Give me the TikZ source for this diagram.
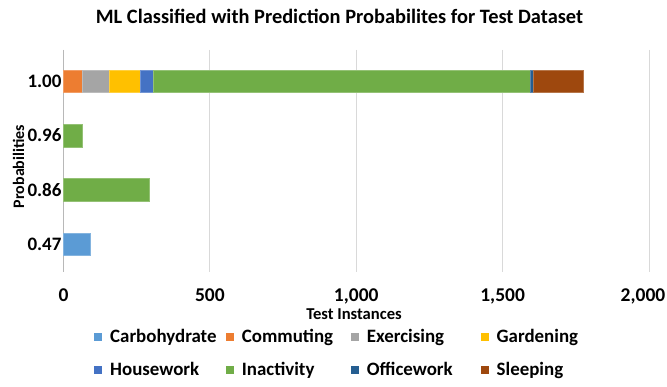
\documentclass[tikz,border=0pt]{standalone}
\usepackage{fontspec}
\setmainfont{Carlito}
\definecolor{cCarb}{HTML}{5B9BD5}
\definecolor{cComm}{HTML}{ED7D31}
\definecolor{cExer}{HTML}{A5A5A5}
\definecolor{cGard}{HTML}{FFC000}
\definecolor{cHouse}{HTML}{4472C4}
\definecolor{cInact}{HTML}{70AD47}
\definecolor{cOffice}{HTML}{255E91}
\definecolor{cSleep}{HTML}{9E480E}
\definecolor{gridgray}{HTML}{D9D9D9}
\tikzset{
  fs/.style={font=\fontsize{#1}{#1}\selectfont\bfseries},
  catlabel/.style={fs=19, anchor=base east, inner sep=0pt},
  ticklabel/.style={fs=19.5, anchor=base, inner sep=0pt, text depth=2pt},
  legtext/.style={fs=18.9, anchor=base west, inner sep=0pt},
  legkey/.style={minimum size=8pt, inner sep=0pt, outer sep=0pt},
  seg/.style={fill=#1, draw=#1!75!white, line width=0.5pt},
  gridline/.style={draw=gridgray, line width=1pt},
}
\begin{document}
\begin{tikzpicture}[x=1pt,y=-1pt]
\useasboundingbox[fill=white] (0,0) rectangle (667,387);

% title
\node[fs=20.4, anchor=base, inner sep=0pt] (title) at (339.5,23.3)
  {ML Classified with Prediction Probabilites for Test Dataset};

% vertical gridlines (data units along x)
\begin{scope}[x=0.29275pt, xshift=63.5pt]
  \foreach \v in {500,1000,1500,2000}
    \draw[gridline] (\v,50) -- (\v,272);
  \draw[draw=gridgray!85!black, line width=1pt] (0,50) -- (0,272);

  % stacked bars: category 1.00
  \def\ya{70}\def\yb{92.5}
  \fill[seg=cComm]   (0,\ya)    rectangle (64,\yb);
  \fill[seg=cExer]   (64,\ya)   rectangle (156,\yb);
  \fill[seg=cGard]   (156,\ya)  rectangle (263,\yb);
  \fill[seg=cHouse]  (263,\ya)  rectangle (308,\yb);
  \fill[seg=cInact]  (308,\ya)  rectangle (1595,\yb);
  \fill[seg=cOffice] (1595,\ya) rectangle (1606,\yb);
  \fill[seg=cSleep]  (1606,\ya) rectangle (1774,\yb);

  % category 0.96
  \fill[seg=cInact] (0,124.3) rectangle (65,146.8);
  % category 0.86
  \fill[seg=cInact] (0,178.7) rectangle (292,201.2);
  % category 0.47
  \fill[seg=cCarb]  (0,233) rectangle (91,255.5);

  % x tick labels
  \node[ticklabel] (t0)    at (0,301.8)    {0};
  \node[ticklabel] (t500)  at (500,301.8)  {500};
  \node[ticklabel] (t1000) at (1000,301.8) {1,000};
  \node[ticklabel] (t1500) at (1500,301.8) {1,500};
\end{scope}
\node[ticklabel, anchor=base east] (t2000) at (665.5,301.8) {2,000};

% category labels
\node[catlabel] (c100) at (61.7,87.8)  {1.00};
\node[catlabel] (c096) at (61.7,142)   {0.96};
\node[catlabel] (c086) at (61.7,196.4) {0.86};
\node[catlabel] (c047) at (61.7,250.7) {0.47};

% axis titles
\node[fs=16.6, anchor=base, inner sep=0pt, text height=11pt] (xtitle) at (354,319.3) {Test Instances};
\node[fs=16, anchor=base, rotate=90, inner sep=0pt] (ytitle) at (24,166.5) {Probabilities};

% legend
\foreach \col/\name/\x/\y in {
    cCarb/Carbohydrate/94/337, cComm/Commuting/225.7/337,
    cExer/Exercising/350.7/337, cGard/Gardening/480.5/337,
    cHouse/Housework/94/370.5, cInact/Inactivity/225.7/370.5,
    cOffice/Officework/350.7/370.5, cSleep/Sleeping/480.5/370.5} {
  \node[legkey, fill=\col, anchor=west] (key\name) at (\x,\y) {};
  \node[legtext] (leg\name) at ([xshift=8pt, yshift=-5.3pt]key\name.east) {\name};
}
\end{tikzpicture}
\end{document}
